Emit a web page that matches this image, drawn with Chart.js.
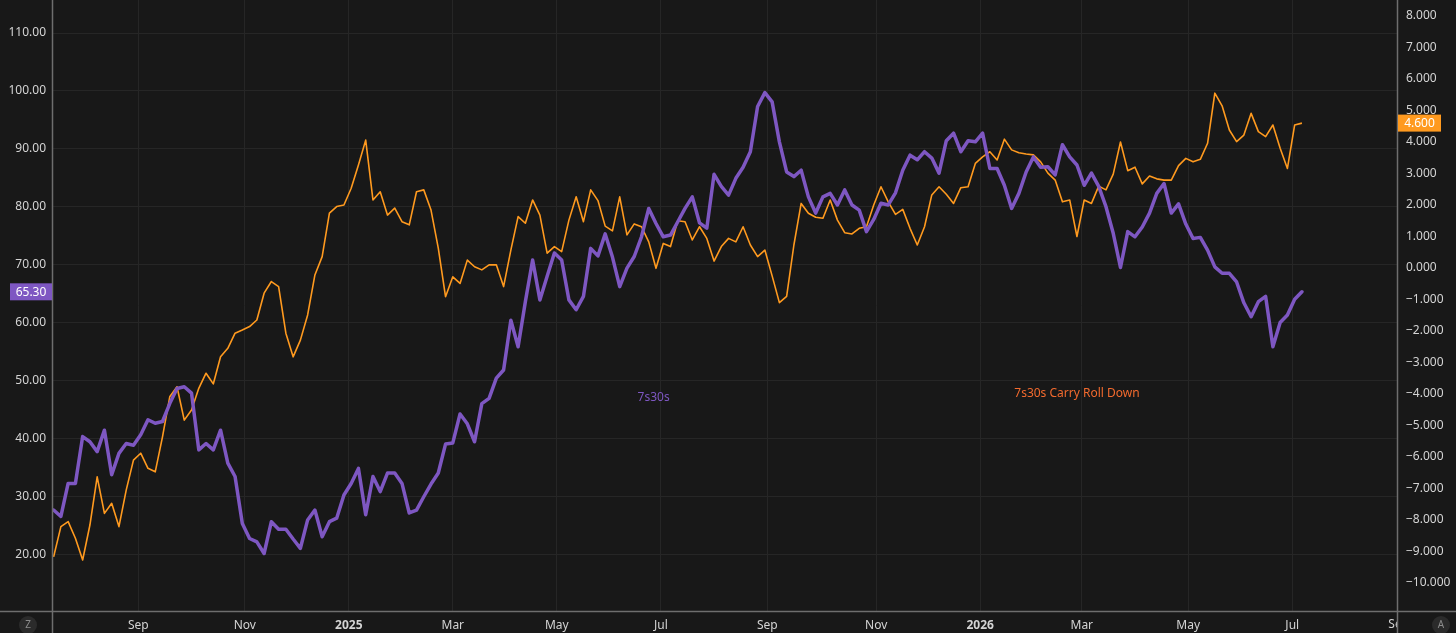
<!DOCTYPE html>
<html>
<head>
<meta charset="utf-8">
<title>7s30s vs Carry Roll Down</title>
<script src="https://cdn.jsdelivr.net/npm/chart.js@4.4.1/dist/chart.umd.min.js"></script>
<style>
  html, body { margin: 0; padding: 0; background: #181818; overflow: hidden; }
  canvas { display: block; }
</style>
</head>
<body>
<canvas id="chart" width="1456" height="633"></canvas>
<script>
// first session of the series, values are every 3rd weekday after it
const startDate = "2024-07-15";
const stepWeekdays = 3;

// 7s30s (left axis)
const spreadValues = [
  27.6, 26.5, 32.2, 32.2, 40.3, 39.4, 37.7, 41.4, 33.7, 37.4,
  39.1, 38.8, 40.6, 43.2, 42.6, 42.9, 46.0, 48.6, 48.9, 47.8,
  38.0, 39.1, 38.0, 41.4, 35.7, 33.4, 25.3, 22.7, 22.1, 20.1,
  25.6, 24.3, 24.3, 22.6, 21.0, 25.9, 27.6, 23.0, 25.6, 26.2,
  30.2, 32.2, 34.8, 26.8, 33.4, 30.8, 34.0, 34.0, 32.2, 27.1,
  27.6, 29.9, 32.1, 34.0, 39.0, 39.2, 44.2, 42.5, 39.4, 46.0,
  46.9, 50.4, 51.8, 60.4, 55.8, 63.6, 70.8, 63.9, 68.0, 72.0,
  70.8, 63.9, 62.2, 64.5, 72.8, 71.5, 75.3, 71.3, 66.2, 69.4,
  71.4, 74.8, 79.7, 77.1, 74.8, 75.1, 77.4, 79.7, 81.7, 77.2,
  76.3, 85.6, 83.5, 82.0, 84.9, 86.8, 89.5, 97.3, 99.7, 98.1,
  91.2, 86.0, 85.2, 86.3, 81.7, 78.9, 81.7, 82.3, 80.3, 82.9,
  80.3, 79.4, 75.7, 77.8, 80.6, 80.3, 82.4, 86.3, 88.9, 88.1,
  89.5, 88.4, 85.8, 91.4, 92.7, 89.5, 91.4, 91.2, 92.7, 86.6,
  86.6, 83.7, 79.7, 82.3, 86.0, 88.6, 86.8, 86.9, 85.5, 90.7,
  88.6, 87.2, 83.7, 85.8, 83.5, 80.0, 75.4, 69.5, 75.7, 74.8,
  76.5, 78.9, 82.3, 84.0, 78.9, 80.5, 77.0, 74.5, 74.7, 72.5,
  69.6, 68.5, 68.5, 67.0, 63.4, 61.0, 63.6, 64.5, 55.8, 60.0,
  61.3, 64.0, 65.3
];

// 7s30s Carry Roll Down (right axis)
const carryValues = [
  -9.17, -8.21, -8.05, -8.58, -9.27, -8.16, -6.63, -7.79, -7.47, -8.21,
  -7.05, -6.10, -5.88, -6.36, -6.47, -5.36, -4.09, -3.77, -4.83, -4.51,
  -3.82, -3.34, -3.68, -2.82, -2.55, -2.07, -1.97, -1.86, -1.65, -0.80,
  -0.43, -0.59, -2.07, -2.82, -2.29, -1.49, -0.22, 0.36, 1.74, 1.95,
  2.00, 2.53, 3.27, 4.06, 2.16, 2.42, 1.68, 1.90, 1.47, 1.37,
  2.42, 2.48, 1.84, 0.63, -0.91, -0.28, -0.49, 0.25, 0.04, -0.06,
  0.10, 0.10, -0.59, 0.57, 1.63, 1.42, 2.16, 1.68, 0.47, 0.68,
  0.52, 1.52, 2.26, 1.47, 2.48, 2.14, 1.33, 1.18, 2.26, 1.05,
  1.40, 1.31, 0.83, -0.01, 0.78, 0.68, 1.50, 1.47, 0.89, 1.31,
  0.94, 0.22, 0.68, 0.94, 0.83, 1.31, 0.73, 0.36, 0.57, -0.25,
  -1.10, -0.90, 0.73, 2.05, 1.74, 1.61, 1.58, 2.16, 1.52, 1.12,
  1.08, 1.26, 1.31, 2.00, 2.58, 2.10, 1.70, 1.86, 1.26, 0.73,
  1.31, 2.32, 2.58, 2.34, 2.05, 2.55, 2.58, 3.32, 3.53, 3.69,
  3.43, 4.09, 3.75, 3.66, 3.62, 3.59, 3.37, 3.01, 2.79, 2.10,
  2.16, 1.00, 2.16, 2.05, 2.60, 2.48, 2.98, 4.00, 3.09, 3.20,
  2.67, 2.92, 2.83, 2.79, 2.79, 3.25, 3.48, 3.37, 3.45, 3.96,
  5.55, 5.15, 4.38, 4.01, 4.22, 4.91, 4.33, 4.17, 4.54, 3.80,
  3.16, 4.54, 4.60
];

// time axis labels (first session of the month)
const tickDates = ["2024-09-02", "2024-11-01", "2025-01-01", "2025-03-03", "2025-05-01", "2025-07-01",
                   "2025-09-01", "2025-11-03", "2026-01-01", "2026-03-02", "2026-05-01", "2026-07-01"];
const tickLabels = ["Sep", "Nov", "2025", "Mar", "May", "Jul", "Sep", "Nov", "2026", "Mar", "May", "Jul"];
const cutTick = { date: "2026-09-01", label: "Sep" };

const leftTicks = [20, 30, 40, 50, 60, 70, 80, 90, 100, 110];
const rightTicks = [-10, -9, -8, -7, -6, -5, -4, -3, -2, -1, 0, 1, 2, 3, 4, 5, 6, 7, 8];

const seriesNotes = [
  { text: "7s30s", date: "2025-06-26", value: 47.0, axis: "yL", color: "#7e57c2" },
  { text: "7s30s Carry Roll Down", date: "2026-02-26", value: -3.98, axis: "yR", color: "#f26a2e" }
];

const BG = "#181818";
const PURPLE = "#7e57c2";
const ORANGE = "#ff9a1f";
const TEXT = "#d4d4d4";
const GRID = "#262626";
const EDGE = "#6e6e6e";

function weekdayIndex(dateStr) {
  const t = new Date(startDate + "T00:00:00Z");
  const end = new Date(dateStr + "T00:00:00Z");
  let n = 0;
  while (t < end) {
    const w = t.getUTCDay();
    if (w !== 0 && w !== 6) n++;
    t.setUTCDate(t.getUTCDate() + 1);
  }
  return n;
}

const tickIdx = tickDates.map(weekdayIndex);
const labelAt = {};
tickIdx.forEach((v, i) => { labelAt[v] = tickLabels[i]; });

const spreadPoints = spreadValues.map((v, i) => ({ x: i * stepWeekdays, y: v }));
const carryPoints = carryValues.map((v, i) => ({ x: i * stepWeekdays, y: v }));

Chart.defaults.font.family = "'Noto Sans', 'DejaVu Sans', sans-serif";
Chart.defaults.font.size = 12;
Chart.defaults.color = TEXT;

function tag(ctx, x0, x1, y, color, text) {
  ctx.fillStyle = color;
  ctx.fillRect(x0, y - 8.5, x1 - x0, 17);
  ctx.fillStyle = "#ffffff";
  ctx.font = "12px 'Noto Sans', sans-serif";
  ctx.textAlign = "center";
  ctx.textBaseline = "middle";
  ctx.fillText(text, (x0 + x1) / 2, y + 0.5);
}

function roundButton(ctx, x, y, letter) {
  ctx.beginPath();
  ctx.arc(x, y, 9, 0, Math.PI * 2);
  ctx.fillStyle = "#2b2b2b";
  ctx.fill();
  ctx.fillStyle = "#8c8c8c";
  ctx.font = "10px 'Noto Sans', sans-serif";
  ctx.textAlign = "center";
  ctx.textBaseline = "middle";
  ctx.fillText(letter, x, y + 0.5);
}

// price scales use the full pane height, no label overhang
function fitPriceScale(width) {
  return s => {
    s.width = width;
    s.paddingTop = 0;
    s.paddingBottom = 0;
  };
}

const decor = {
  id: "decor",
  beforeDraw(chart) {
    const ctx = chart.ctx;
    ctx.save();
    ctx.fillStyle = BG;
    ctx.fillRect(0, 0, chart.width, chart.height);
    ctx.restore();
  },
  afterDraw(chart) {
    const { ctx, chartArea, scales } = chart;
    const xS = scales.x;
    ctx.save();

    // month label cut by the price scale
    ctx.save();
    ctx.beginPath();
    ctx.rect(chartArea.left, chartArea.bottom, chartArea.right - chartArea.left, chart.height - chartArea.bottom);
    ctx.clip();
    ctx.fillStyle = TEXT;
    ctx.font = "12px 'Noto Sans', sans-serif";
    ctx.textAlign = "center";
    ctx.textBaseline = "middle";
    ctx.fillText(cutTick.label, xS.getPixelForValue(weekdayIndex(cutTick.date)), 625);
    ctx.restore();

    // panel edges
    ctx.strokeStyle = EDGE;
    ctx.lineWidth = 1.5;
    ctx.beginPath();
    ctx.moveTo(0, chartArea.bottom + 0.5);
    ctx.lineTo(chart.width, chartArea.bottom + 0.5);
    ctx.moveTo(chartArea.left - 0.5, 0);
    ctx.lineTo(chartArea.left - 0.5, chart.height);
    ctx.moveTo(chartArea.right + 0.5, 0);
    ctx.lineTo(chartArea.right + 0.5, chart.height);
    ctx.stroke();

    // series names on the pane
    ctx.font = "12px 'Noto Sans', sans-serif";
    ctx.textAlign = "center";
    ctx.textBaseline = "middle";
    seriesNotes.forEach(n => {
      ctx.fillStyle = n.color;
      ctx.fillText(n.text, xS.getPixelForValue(weekdayIndex(n.date)), scales[n.axis].getPixelForValue(n.value));
    });

    // last value tags
    const lastSpread = spreadValues[spreadValues.length - 1];
    const lastCarry = carryValues[carryValues.length - 1];
    tag(ctx, 10, chartArea.left - 1, scales.yL.getPixelForValue(lastSpread), PURPLE, lastSpread.toFixed(2));
    tag(ctx, chartArea.right + 1, chartArea.right + 44, scales.yR.getPixelForValue(lastCarry), ORANGE, lastCarry.toFixed(3));

    roundButton(ctx, 28, 625, "Z");
    roundButton(ctx, 1441, 625, "A");
    ctx.restore();
  }
};

new Chart(document.getElementById("chart"), {
  type: "line",
  data: {
    datasets: [
      {
        label: "7s30s",
        data: spreadPoints,
        yAxisID: "yL",
        borderColor: PURPLE,
        borderWidth: 3.5,
        pointRadius: 0,
        tension: 0,
        borderJoinStyle: "round",
        borderCapStyle: "round"
      },
      {
        label: "7s30s Carry Roll Down",
        data: carryPoints,
        yAxisID: "yR",
        borderColor: ORANGE,
        borderWidth: 1.6,
        pointRadius: 0,
        tension: 0,
        borderJoinStyle: "round"
      }
    ]
  },
  options: {
    responsive: false,
    animation: false,
    events: [],
    layout: { padding: 0 },
    plugins: { legend: { display: false }, tooltip: { enabled: false } },
    scales: {
      x: {
        type: "linear",
        min: -0.26,
        max: 555.3,
        afterBuildTicks: s => { s.ticks = tickIdx.map(v => ({ value: v })); },
        afterFit: s => { s.height = 22; s.paddingLeft = 0; s.paddingRight = 0; },
        ticks: {
          autoSkip: false,
          maxRotation: 0,
          padding: 7,
          color: TEXT,
          callback: v => labelAt[v],
          font: c => ({ weight: /^\d{4}$/.test(tickLabels[c.index] || "") ? "bold" : "normal" })
        },
        grid: { color: GRID, drawTicks: false },
        border: { display: false }
      },
      yL: {
        type: "linear",
        position: "left",
        min: 10.17,
        max: 115.7,
        afterBuildTicks: s => { s.ticks = leftTicks.map(v => ({ value: v })); },
        afterFit: fitPriceScale(53),
        ticks: { padding: 7, color: TEXT, callback: v => v.toFixed(2) },
        grid: { color: GRID, drawTicks: false },
        border: { display: false }
      },
      yR: {
        type: "linear",
        position: "right",
        min: -10.889,
        max: 8.508,
        afterBuildTicks: s => { s.ticks = rightTicks.map(v => ({ value: v })); },
        afterFit: fitPriceScale(59),
        ticks: { padding: 9, color: TEXT, callback: v => (v < 0 ? "\u2212" : "") + Math.abs(v).toFixed(3) },
        grid: { display: false, drawTicks: false },
        border: { display: false }
      }
    }
  },
  plugins: [decor]
});
</script>
</body>
</html>
